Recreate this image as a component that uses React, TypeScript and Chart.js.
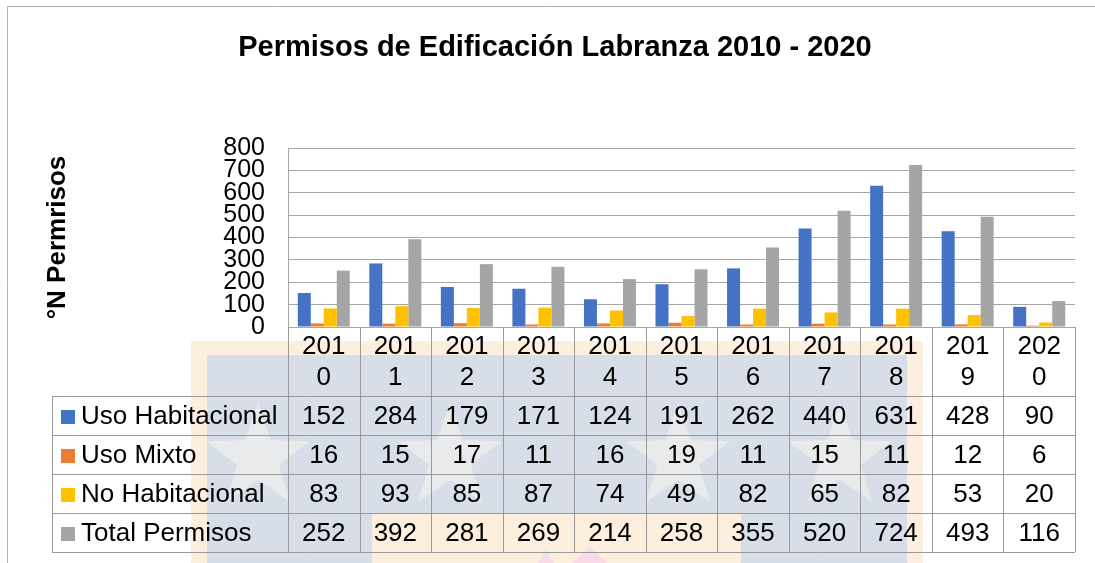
import React, { useEffect, useRef } from "react";
import { Chart, registerables } from "chart.js";

Chart.register(...registerables);

const categories = ["2010", "2011", "2012", "2013", "2014", "2015", "2016", "2017", "2018", "2019", "2020"];
const usoHabitacional = [152, 284, 179, 171, 124, 191, 262, 440, 631, 428, 90];
const usoMixto = [16, 15, 17, 11, 16, 19, 11, 15, 11, 12, 6];
const noHabitacional = [83, 93, 85, 87, 74, 49, 82, 65, 82, 53, 20];
const totalPermisos = [252, 392, 281, 269, 214, 258, 355, 520, 724, 493, 116];
const seriesNames = ["Uso Habitacional", "Uso Mixto", "No Habitacional", "Total Permisos"];
const seriesColors = ["#4472C4", "#ED7D31", "#FFC000", "#A5A5A5"];
const yMin = 0;
const yMax = 800;
const yStep = 100;
const chartTitle = "Permisos de Edificación Labranza 2010 - 2020";
const yAxisTitle = "°N Permrisos";

const FONT = '"Liberation Sans", Arial, Helvetica, sans-serif';
const LINE = "#a6a6a6";

function drawStar(ctx: CanvasRenderingContext2D, cx: number, cy: number, ro: number, ri: number) {
  ctx.beginPath();
  for (let i = 0; i < 10; i++) {
    const r = i % 2 === 0 ? ro : ri;
    const a = -Math.PI / 2 + (i * Math.PI) / 5;
    const px = cx + r * Math.cos(a);
    const py = cy + r * Math.sin(a);
    if (i === 0) ctx.moveTo(px, py);
    else ctx.lineTo(px, py);
  }
  ctx.closePath();
  ctx.fill();
}

const decorPlugin = {
  id: "decorPlugin",
  beforeDraw(chart: any) {
    const ctx: CanvasRenderingContext2D = chart.ctx;
    ctx.save();
    ctx.fillStyle = "#ffffff";
    ctx.fillRect(0, 0, chart.width, chart.height);
    // faint background watermark
    ctx.fillStyle = "#fdefdd";
    ctx.fillRect(191, 341, 732, 222);
    ctx.fillStyle = "#d7dee7";
    ctx.fillRect(207, 355, 700, 158);
    ctx.fillRect(207, 513, 165, 50);
    ctx.fillRect(741, 513, 166, 50);
    ctx.save();
    ctx.beginPath();
    ctx.rect(207, 355, 700, 158);
    ctx.clip();
    ctx.fillStyle = "#e9eaec";
    drawStar(ctx, 258, 458, 55, 22);
    drawStar(ctx, 450, 458, 55, 22);
    drawStar(ctx, 678, 458, 55, 22);
    drawStar(ctx, 840, 458, 55, 22);
    ctx.restore();
    ctx.fillStyle = "#f9dbe8";
    ctx.beginPath();
    ctx.moveTo(538, 563);
    ctx.lineTo(546, 549);
    ctx.lineTo(554, 563);
    ctx.closePath();
    ctx.fill();
    ctx.beginPath();
    ctx.moveTo(572, 563);
    ctx.lineTo(590, 547);
    ctx.lineTo(607, 563);
    ctx.closePath();
    ctx.fill();
    ctx.restore();
  },
  afterDraw(chart: any) {
    const ctx: CanvasRenderingContext2D = chart.ctx;
    const area = chart.chartArea;
    const xs = chart.scales.x;
    ctx.save();

    // frame
    ctx.strokeStyle = "#b4b4b4";
    ctx.lineWidth = 1;
    ctx.beginPath();
    ctx.moveTo(7.5, 563);
    ctx.lineTo(7.5, 6.5);
    ctx.lineTo(1095, 6.5);
    ctx.stroke();

    // title
    ctx.fillStyle = "#000";
    ctx.font = `bold 29px ${FONT}`;
    ctx.textAlign = "center";
    ctx.textBaseline = "alphabetic";
    ctx.fillText(chartTitle, 555, 56);

    // y axis title
    ctx.save();
    ctx.translate(65, (area.top + area.bottom) / 2);
    ctx.rotate(-Math.PI / 2);
    ctx.font = `bold 26px ${FONT}`;
    ctx.fillText(yAxisTitle, 0, 0);
    ctx.restore();

    // data table
    const n = categories.length;
    const half = (xs.getPixelForValue(1) - xs.getPixelForValue(0)) / 2;
    const edges: number[] = [];
    for (let i = 0; i < n; i++) edges.push(xs.getPixelForValue(i) - half);
    edges.push(xs.getPixelForValue(n - 1) + half);
    const headTop = area.bottom;
    const headBottom = 396;
    const rowH = 39;
    const legendLeft = 52;
    const rows = [usoHabitacional, usoMixto, noHabitacional, totalPermisos];
    const tableBottom = headBottom + rowH * rows.length;

    ctx.strokeStyle = "#999999";
    ctx.lineWidth = 1;
    ctx.beginPath();
    for (let r = 0; r <= rows.length; r++) {
      const y = Math.round(headBottom + r * rowH) + 0.5;
      ctx.moveTo(legendLeft, y);
      ctx.lineTo(edges[n], y);
    }
    ctx.moveTo(legendLeft + 0.5, headBottom);
    ctx.lineTo(legendLeft + 0.5, tableBottom);
    for (let i = 0; i <= n; i++) {
      const x = Math.round(edges[i]) + 0.5;
      ctx.moveTo(x, headTop);
      ctx.lineTo(x, tableBottom);
    }
    ctx.stroke();

    ctx.fillStyle = "#000";
    ctx.font = `26px ${FONT}`;
    ctx.textAlign = "center";
    ctx.textBaseline = "middle";
    for (let i = 0; i < n; i++) {
      const cx = xs.getPixelForValue(i);
      const lab = categories[i];
      ctx.fillText(lab.slice(0, 3), cx, 347);
      ctx.fillText(lab.slice(3), cx, 378);
    }
    rows.forEach((vals, r) => {
      const cy = headBottom + r * rowH + rowH / 2 + 1;
      vals.forEach((v, i) => {
        ctx.fillText(String(v), xs.getPixelForValue(i), cy);
      });
      ctx.fillStyle = seriesColors[r];
      ctx.fillRect(61, Math.round(cy - 7), 14, 14);
      ctx.fillStyle = "#000";
      ctx.textAlign = "left";
      ctx.fillText(seriesNames[r], 81, cy);
      ctx.textAlign = "center";
    });

    ctx.restore();
  },
};

export default function App() {
  const ref = useRef<HTMLCanvasElement | null>(null);

  useEffect(() => {
    if (!ref.current) return;
    const seriesData = [usoHabitacional, usoMixto, noHabitacional, totalPermisos];
    const chart = new Chart(ref.current, {
      type: "bar",
      data: {
        labels: categories,
        datasets: seriesData.map((d, i) => ({
          label: seriesNames[i],
          data: d,
          backgroundColor: seriesColors[i],
          borderWidth: 0,
          barPercentage: 1,
          categoryPercentage: 0.727,
        })),
      },
      options: {
        responsive: false,
        animation: false,
        devicePixelRatio: 1,
        layout: { padding: { left: 8, top: 148, right: 20, bottom: 236 } },
        plugins: {
          legend: { display: false },
          title: { display: false },
          tooltip: { enabled: false },
        },
        scales: {
          x: { display: false },
          y: {
            min: yMin,
            max: yMax,
            afterFit: (scale: any) => {
              scale.width = 280;
            },
            ticks: {
              stepSize: yStep,
              autoSkip: false,
              color: "#000",
              padding: 23,
              font: { family: FONT, size: 25, lineHeight: 1 },
            },
            grid: { color: LINE, drawTicks: false, lineWidth: 1 },
            border: { display: true, color: LINE },
          },
        },
      },
      plugins: [decorPlugin],
    });
    return () => chart.destroy();
  }, []);

  return (
    <div style={{ position: "fixed", left: 0, top: 0, width: 1095, height: 563, background: "#fff" }}>
      <canvas ref={ref} width={1095} height={563} style={{ width: 1095, height: 563, display: "block" }} />
    </div>
  );
}
